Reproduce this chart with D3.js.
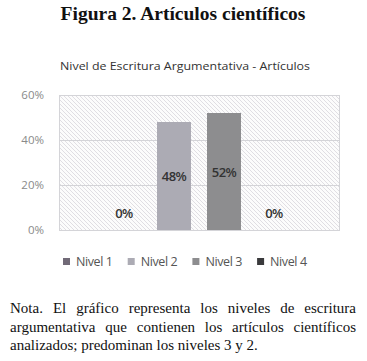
<!DOCTYPE html>
<html>
<head>
<meta charset="utf-8">
<script src="https://cdn.jsdelivr.net/npm/d3@7"></script>
<style>
  body { margin: 0; background: #fff; }
  #wrap { position: relative; width: 367px; height: 361px; }
  #nota {
    position: absolute; left: 10px; top: 299px; width: 346px;
    font-family: "Liberation Serif", "Times New Roman", serif;
    font-size: 15px; line-height: 18.7px; color: #111;
  }
  #nota div { text-align: justify; text-align-last: justify; white-space: nowrap; }
  #nota div:last-child { text-align-last: left; }
</style>
</head>
<body>
<div id="wrap">
  <div id="chart"></div>
  <div id="nota"></div>
</div>
<script>
// chart data
const series = ["Nivel 1", "Nivel 2", "Nivel 3", "Nivel 4"];
const values = [0, 48, 52, 0];
const yTicks = [0, 20, 40, 60];
const colors = ["#716a77", "#acabb4", "#8d8d8f", "#3a3a3c"];
const notaLines = [
  "Nota. El gráfico representa los niveles de escritura",
  "argumentativa que contienen los artículos científicos",
  "analizados; predominan los niveles 3 y 2."
];

const width = 367, height = 361;
const plot = { left: 59, right: 340, top: 95, bottom: 230 };

d3.select("#nota")
  .selectAll("div")
  .data(notaLines)
  .join("div")
  .style("white-space", (d, i) => i < 2 ? "normal" : "nowrap")
  .text(d => d);

const svg = d3.select("#chart")
  .append("svg")
  .attr("width", width)
  .attr("height", height);

// hatch pattern for the plot background
const defs = svg.append("defs");
const pat = defs.append("pattern")
  .attr("id", "hatch")
  .attr("patternUnits", "userSpaceOnUse")
  .attr("width", 4)
  .attr("height", 4);
pat.append("rect").attr("width", 4).attr("height", 4).attr("fill", "#fcfcfc");
pat.append("path")
  .attr("d", "M-1,-1 L5,5 M-1,3 L1,5 M3,-1 L5,1")
  .attr("stroke", "#dcdae0")
  .attr("stroke-width", 0.9);

// titles
svg.append("text")
  .attr("x", 183)
  .attr("y", 20)
  .attr("text-anchor", "middle")
  .attr("font-family", "Liberation Serif, Times New Roman, serif")
  .attr("font-weight", "bold")
  .attr("font-size", 19.5)
  .attr("fill", "#111")
  .text("Figura 2. Artículos científicos");

svg.append("text")
  .attr("x", 60)
  .attr("y", 70)
  .attr("textLength", 250)
  .attr("lengthAdjust", "spacingAndGlyphs")
  .attr("font-family", "Open Sans, sans-serif")
  .attr("font-size", 11.5)
  .attr("fill", "#333")
  .text("Nivel de Escritura Argumentativa - Artículos");

const y = d3.scaleLinear().domain([0, 60]).range([plot.bottom, plot.top]);

// one category, four series side by side
const x = d3.scaleBand()
  .domain(series)
  .range([107, 291])
  .paddingInner(16 / 50)
  .paddingOuter(0);

svg.append("rect")
  .attr("x", plot.left)
  .attr("y", plot.top)
  .attr("width", plot.right - plot.left)
  .attr("height", plot.bottom - plot.top)
  .attr("fill", "url(#hatch)");

const grid = svg.append("g");
grid.selectAll("line")
  .data(yTicks)
  .join("line")
  .attr("x1", plot.left)
  .attr("x2", plot.right)
  .attr("y1", d => Math.round(y(d)) + 0.5)
  .attr("y2", d => Math.round(y(d)) + 0.5)
  .attr("stroke", "#d4d4d8");

svg.append("rect")
  .attr("x", plot.left + 0.5)
  .attr("y", plot.top + 0.5)
  .attr("width", plot.right - plot.left - 1)
  .attr("height", plot.bottom - plot.top)
  .attr("fill", "none")
  .attr("stroke", "#d4d4d8");

// y axis labels
const yAxis = svg.append("g")
  .attr("transform", `translate(${plot.left - 15},0)`)
  .call(d3.axisLeft(y).tickValues(yTicks).tickSize(0).tickFormat(d => d + "%"));
yAxis.select(".domain").remove();
yAxis.selectAll("text")
  .attr("x", 0)
  .attr("font-family", "Open Sans, sans-serif")
  .attr("font-size", 11.5)
  .attr("fill", "#8a8a8a");

// bars
const data = series.map((s, i) => ({ s, v: values[i], c: colors[i] }));

svg.append("g")
  .selectAll("rect")
  .data(data)
  .join("rect")
  .attr("x", d => x(d.s))
  .attr("y", d => y(d.v))
  .attr("width", x.bandwidth())
  .attr("height", d => y(0) - y(d.v))
  .attr("fill", d => d.c);

svg.append("g")
  .selectAll("text")
  .data(data)
  .join("text")
  .attr("x", d => x(d.s) + x.bandwidth() / 2)
  .attr("y", d => d.v > 0 ? (y(d.v) + y(0)) / 2 + 5 : y(0) - 12)
  .attr("text-anchor", "middle")
  .attr("font-family", "Open Sans, sans-serif")
  .attr("font-weight", 600)
  .attr("font-size", 13)
  .attr("letter-spacing", -0.6)
  .attr("fill", "#333")
  .text(d => d.v + "%");

// legend
const legend = svg.append("g")
  .selectAll("g")
  .data(data)
  .join("g")
  .attr("transform", (d, i) => `translate(${63 + i * 64.7},258)`);

legend.append("rect")
  .attr("width", 7)
  .attr("height", 7)
  .attr("fill", d => d.c);

legend.append("text")
  .attr("x", 13)
  .attr("y", 8)
  .attr("font-family", "Open Sans, sans-serif")
  .attr("font-size", 12.5)
  .attr("letter-spacing", -0.4)
  .attr("fill", "#555")
  .text(d => d.s);
</script>
</body>
</html>
